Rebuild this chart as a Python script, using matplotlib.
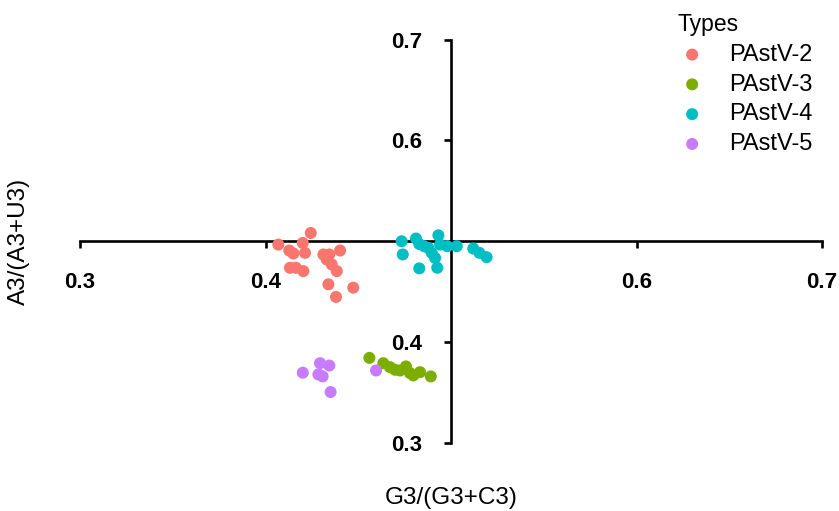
import matplotlib
matplotlib.use("Agg")
import matplotlib.pyplot as plt

plt.rcParams['font.family'] = ['Liberation Sans', 'DejaVu Sans']

types = ["PAstV-2", "PAstV-3", "PAstV-4", "PAstV-5"]
colors = ["#F8766D", "#7CAE00", "#00BFC4", "#C77CFF"]

pastv2_x = [0.4244, 0.4069, 0.4128, 0.4201, 0.4213, 0.4150, 0.4132, 0.4164, 0.4204,
            0.4312, 0.4344, 0.4402, 0.4330, 0.4357, 0.4384, 0.4339, 0.4380, 0.4473]
pastv2_y = [0.5082, 0.4967, 0.4908, 0.4983, 0.4885, 0.4879, 0.4737, 0.4737, 0.4704,
            0.4869, 0.4869, 0.4908, 0.4820, 0.4770, 0.4704, 0.4573, 0.4448, 0.4540]

pastv3_x = [0.4560, 0.4635, 0.4671, 0.4698, 0.4725, 0.4757, 0.4779, 0.4797, 0.4833, 0.4891]
pastv3_y = [0.3844, 0.3791, 0.3752, 0.3726, 0.3719, 0.3759, 0.3693, 0.3670, 0.3702, 0.3660]

pastv4_x = [0.4734, 0.4811, 0.4829, 0.4854, 0.4878, 0.4896, 0.4914, 0.4932, 0.4941,
            0.4980, 0.5031, 0.4740, 0.4829, 0.4926, 0.5120, 0.5153, 0.5192]
pastv4_y = [0.5000, 0.5027, 0.4973, 0.4951, 0.4934, 0.4885, 0.4835, 0.5059, 0.4967,
            0.4951, 0.4951, 0.4869, 0.4731, 0.4737, 0.4928, 0.4885, 0.4842]

pastv5_x = [0.4201, 0.4294, 0.4344, 0.4285, 0.4308, 0.4351, 0.4596]
pastv5_y = [0.3697, 0.3791, 0.3768, 0.3680, 0.3660, 0.3505, 0.3719]

series_x = [pastv2_x, pastv3_x, pastv4_x, pastv5_x]
series_y = [pastv2_y, pastv3_y, pastv4_y, pastv5_y]

x_ticks = [0.3, 0.4, 0.6, 0.7]
y_ticks = [0.3, 0.4, 0.6, 0.7]
x_ticklabels = ["0.3", "0.4", "0.6", "0.7"]
y_ticklabels = ["0.3", "0.4", "0.6", "0.7"]

fig = plt.figure(figsize=(8.39, 5.11), dpi=100)
ax = fig.add_axes([80/839, (511-443)/511, 742/839, 403.5/511])

handles = []
for xs, ys, c, lab in zip(series_x, series_y, colors, types):
    h = ax.scatter(xs, ys, s=75, color=c, edgecolors='none', label=lab, zorder=3)
    handles.append(h)

ax.set_xlim(0.3, 0.7)
ax.set_ylim(0.3, 0.7)

for side in ['top', 'right']:
    ax.spines[side].set_visible(False)
ax.spines['left'].set_position(('data', 0.5))
ax.spines['bottom'].set_position(('data', 0.5))
for side in ['left', 'bottom']:
    ax.spines[side].set_linewidth(1.9)
    ax.spines[side].set_color('black')

ax.set_xticks(x_ticks)
ax.set_xticklabels(x_ticklabels, fontsize=16, fontweight='bold')
ax.set_yticks(y_ticks)
ax.set_yticklabels(y_ticklabels, fontsize=16, fontweight='bold')
ax.tick_params(axis='x', direction='out', length=5, width=1.9, pad=17)
ax.tick_params(axis='y', direction='out', length=5, width=1.9, pad=16)

ax.set_xlabel("G3/(G3+C3)", fontsize=17.5)
ax.set_ylabel("A3/(A3+U3)", fontsize=17.5)
ax.xaxis.set_label_coords(0.5, -(498-443)/403.5)
ax.xaxis.label.set_va('center')
ax.yaxis.set_label_coords((19-80)/742, 0.5)
ax.yaxis.label.set_va('center')

leg = fig.legend(handles=handles, labels=types, title="Types",
                 loc='upper left', bbox_to_anchor=(678/839, 1 - 13/511),
                 frameon=False, fontsize=17, title_fontsize=16.5,
                 handlelength=1.2, handletextpad=0.97, labelspacing=0.33,
                 borderaxespad=0, borderpad=0, alignment='left',
                 markerscale=1.0)

fig.savefig("out.png", dpi=100)
